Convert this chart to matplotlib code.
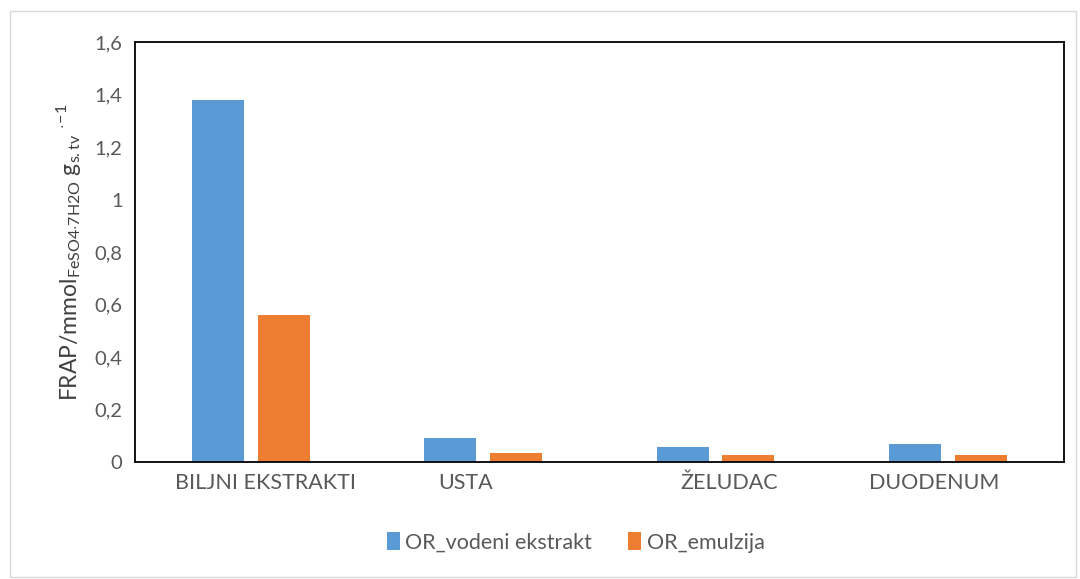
import matplotlib
matplotlib.use("Agg")
import matplotlib.pyplot as plt
import matplotlib.transforms as mtransforms
import numpy as np
from matplotlib.patches import Rectangle

categories = ["BILJNI EKSTRAKTI", "USTA", "ŽELUDAC", "DUODENUM"]
vodeni = [1.38, 0.09, 0.058, 0.069]
emulzija = [0.56, 0.035, 0.027, 0.027]
yticks = [0, 0.2, 0.4, 0.6, 0.8, 1.0, 1.2, 1.4, 1.6]
ytick_labels = ["0", "0,2", "0,4", "0,6", "0,8", "1", "1,2", "1,4", "1,6"]
# small horizontal shifts of the category labels (pixels), as in the original
label_shift = [14, -18, 14, -14]

plt.rcParams["font.family"] = ["Lato", "DejaVu Sans"]
plt.rcParams["mathtext.fontset"] = "custom"
plt.rcParams["mathtext.rm"] = "Lato"

fig = plt.figure(figsize=(10.8, 5.79), dpi=100)
ax = fig.add_axes([0.125, 0.202, 0.86, 0.725])

x = np.arange(len(categories))
w = 0.224
ax.bar(x - 0.142, vodeni, w, color="#5B9BD5", label="OR_vodeni ekstrakt")
ax.bar(x + 0.142, emulzija, w, color="#ED7D31", label="OR_emulzija")

ax.set_xlim(-0.5, 3.5)
ax.set_ylim(0, 1.6)
ax.set_yticks(yticks)
ax.set_yticklabels(ytick_labels)
ax.set_xticks(x)
ax.set_xticklabels(categories)
ax.tick_params(axis="both", length=0, colors="#595959")
ax.tick_params(axis="y", labelsize=14.5, pad=9)
ax.tick_params(axis="x", labelsize=15.5, pad=8)
for lab, dx in zip(ax.get_xticklabels(), label_shift):
    lab.set_transform(lab.get_transform() +
                      mtransforms.ScaledTranslation(dx / 100, 0, fig.dpi_scale_trans))
for s in ax.spines.values():
    s.set_color("black")
    s.set_linewidth(1.3)

ax.set_ylabel(r"FRAP/mmol$_{\mathrm{FeSO4{\cdot}7H2O}}$ g$_{\mathrm{s.tv}}$ $^{\mathrm{{\cdot}\!-\!1}}$",
              fontsize=16.5, color="#404040", labelpad=8)

fig.legend(loc="center", bbox_to_anchor=(0.533, 0.063), ncol=2, frameon=False,
           fontsize=15.5, handlelength=0.6, handleheight=0.9, handletextpad=0.25,
           columnspacing=1.7, labelcolor="#595959")

fig.patches.append(Rectangle((10 / 1080, 2 / 579), 1066 / 1080, 566 / 579,
                             transform=fig.transFigure, fill=False,
                             edgecolor="#D9D9D9", linewidth=1))

fig.savefig("out.png", dpi=100)
